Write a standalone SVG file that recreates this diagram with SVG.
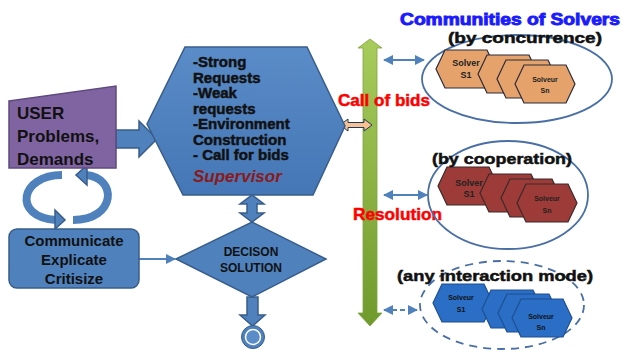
<svg xmlns="http://www.w3.org/2000/svg" xmlns:xlink="http://www.w3.org/1999/xlink" width="621" height="350" viewBox="0 0 621 350">
<style>
.bx{fill:#4f81bd;stroke:#385d8a;stroke-width:1.5}
.t{font-family:"Liberation Sans",Arial,sans-serif;font-weight:bold}
.hv{stroke-width:0.5}
.ell{fill:none;stroke:#4a6fa5;stroke-width:1.8}
.thin{stroke:#4f81bd;stroke-width:2;fill:none}
.or{fill:#e5a26b;stroke:#2b2b3b;stroke-width:1.2}
.rd{fill:#9c3b37;stroke:#3a2a2a;stroke-width:1.2}
.bl{fill:#2a6ec6;stroke:#1f4f8f;stroke-width:1.2}
.sl{font-family:"Liberation Sans",Arial,sans-serif;font-weight:bold;text-anchor:middle}
</style>
<defs>
<linearGradient id="gr" x1="0" y1="0" x2="0" y2="1">
<stop offset="0" stop-color="#a8cc5c"/><stop offset="1" stop-color="#6f9a2c"/>
</linearGradient>
<linearGradient id="hx" x1="0" y1="0" x2="0" y2="1">
<stop offset="0" stop-color="#5a8cc8"/><stop offset="1" stop-color="#4576b5"/>
</linearGradient>
<path id="sh" d="M0,19 L9,0 L51,0 L60,19 L51,38 L9,38 Z"/>
<marker id="ah" viewBox="0 0 10 10" refX="9" refY="5" markerWidth="5" markerHeight="5" orient="auto-start-reverse">
<path d="M0,0 L10,5 L0,10 Z" fill="#4f81bd"/>
</marker>
</defs>

<g id="connectors">
<polygon class="bx" points="116,130 139,130 139,121 157,139 139,157 139,148 116,148"/>
<polygon class="bx" points="252,195 264,204 257,204 257,213 264,213 252,222 240,213 247,213 247,204 240,204"/>
<polygon class="bx" points="247,297 258,297 258,315 265,315 252.5,326 240,315 247,315"/>
<line class="thin" x1="139" y1="259" x2="175" y2="259" marker-end="url(#ah)"/>
<path d="M62,175 C20,175 12,217 56,220" fill="none" stroke="#4f81bd" stroke-width="8"/>
<polygon class="bx" points="55,210 65,220 55,229"/>
<path d="M73,220 C116,220 118,178 86,175" fill="none" stroke="#4f81bd" stroke-width="8"/>
<polygon class="bx" points="87,165 76,175 87,185"/>
<polygon points="370,39 382,48 377,48 377,313 382,313 370,326 358,313 363,313 363,48 358,48" fill="url(#gr)" stroke="#7fa340" stroke-width="0.8"/>
<polygon points="340,125 348,119 348,122.5 364,122.5 364,119 372,125 364,131 364,127.5 348,127.5 348,131" fill="#fac08f" stroke="#1f3a5f" stroke-width="1"/>
<line class="thin" x1="384" y1="60" x2="424" y2="60" marker-start="url(#ah)" marker-end="url(#ah)"/>
<line class="thin" x1="384" y1="195" x2="427" y2="195" marker-start="url(#ah)" marker-end="url(#ah)"/>
<line class="thin" x1="384" y1="310" x2="417" y2="310" stroke-dasharray="5 3" marker-start="url(#ah)" marker-end="url(#ah)"/>
</g>

<g id="user">
<polygon points="9,101 116,86 116,168 9,168" fill="#8064a2" stroke="#5f4a7d" stroke-width="1.5"/>
<text class="t" font-size="17" fill="#111"><tspan x="17" y="119">USER</tspan><tspan x="17" y="142">Problems,</tspan><tspan x="17" y="165">Demands</tspan></text>
</g>

<g id="supervisor">
<polygon points="185,47 307,47 345,126 313,195 183,195 147,124" fill="url(#hx)" stroke="#385d8a" stroke-width="1.5"/>
<text class="t hv" font-size="15" fill="#111" stroke="#111">
<tspan x="193" y="67">-Strong</tspan>
<tspan x="193" y="82.5">Requests</tspan>
<tspan x="193" y="98">-Weak</tspan>
<tspan x="193" y="113.5">requests</tspan>
<tspan x="193" y="129">-Environment</tspan>
<tspan x="193" y="144.5">Construction</tspan>
<tspan x="193" y="160">- Call for bids</tspan>
</text>
<text class="t" x="193" y="182" font-size="17" font-style="italic" fill="#8b1a1a">Supervisor</text>
</g>

<g id="communicate">
<rect class="bx" x="9" y="229" width="130" height="59" rx="8"/>
<text class="t" font-size="15" fill="#111" text-anchor="middle"><tspan x="74" y="246">Communicate</tspan><tspan x="74" y="265">Explicate</tspan><tspan x="74" y="284">Critisize</tspan></text>
</g>

<g id="decision">
<polygon class="bx" points="176,259 252,222 326,259 252,297"/>
<text class="t" font-size="12" fill="#111" text-anchor="middle"><tspan x="251" y="256">DECISON</tspan><tspan x="251" y="272">SOLUTION</tspan></text>
</g>

<g id="end">
<circle cx="253" cy="337" r="11.5" fill="#4f81bd" stroke="#385d8a" stroke-width="1"/>
<circle cx="253" cy="337" r="7.5" fill="#5a8cc8" stroke="#fff" stroke-width="1.5"/>
</g>

<g id="labels">
<text class="t hv" x="338" y="106" font-size="17" fill="#ff0000" stroke="#ff0000" textLength="92" lengthAdjust="spacingAndGlyphs">Call of bids</text>
<text class="t hv" x="353" y="220" font-size="17" fill="#ff0000" stroke="#ff0000" textLength="89" lengthAdjust="spacingAndGlyphs">Resolution</text>
<text class="t" x="400" y="25" font-size="16" fill="#1a1aff" stroke="#1a1aff" stroke-width="0.9" textLength="220" lengthAdjust="spacingAndGlyphs">Communities of Solvers</text>
</g>

<g id="concurrence">
<ellipse class="ell" cx="517" cy="79" rx="95" ry="44"/>
<use href="#sh" x="436" y="50" class="or"/>
<use href="#sh" x="478" y="55" class="or"/>
<use href="#sh" x="497" y="60" class="or"/>
<use href="#sh" x="515" y="65" class="or"/>
<text class="sl" font-size="9" fill="#222"><tspan x="466" y="66">Solver</tspan><tspan x="466" y="78">S1</tspan></text>
<text class="sl" font-size="7" fill="#222"><tspan x="545" y="82">Solveur</tspan><tspan x="545" y="93">Sn</tspan></text>
<text class="t hv" x="448" y="43" font-size="15" fill="#111" stroke="#111" textLength="154" lengthAdjust="spacingAndGlyphs">(by concurrence)</text>
</g>

<g id="cooperation">
<ellipse class="ell" cx="508" cy="195" rx="80" ry="54"/>
<use href="#sh" x="438" y="167" class="rd"/>
<use href="#sh" x="480" y="174" class="rd"/>
<use href="#sh" x="501" y="179" class="rd"/>
<use href="#sh" x="517" y="184" class="rd"/>
<text class="sl" font-size="9" fill="#222"><tspan x="469" y="186">Solver</tspan><tspan x="469" y="197">S1</tspan></text>
<text class="sl" font-size="7" fill="#222"><tspan x="547" y="201">Solveur</tspan><tspan x="547" y="213">Sn</tspan></text>
<text class="t hv" x="432" y="164" font-size="15" fill="#111" stroke="#111" textLength="140" lengthAdjust="spacingAndGlyphs">(by cooperation)</text>
</g>

<g id="anymode">
<ellipse class="ell" cx="502" cy="305" rx="82" ry="44" stroke-dasharray="8 6"/>
<use href="#sh" x="433" y="284" class="bl"/>
<use href="#sh" x="482" y="290" class="bl"/>
<use href="#sh" x="498" y="294" class="bl"/>
<use href="#sh" x="512" y="299" class="bl"/>
<text class="sl" font-size="7" fill="#111"><tspan x="461" y="300">Solveur</tspan><tspan x="461" y="312">S1</tspan></text>
<text class="sl" font-size="7" fill="#111"><tspan x="541" y="319">Solveur</tspan><tspan x="541" y="330">Sn</tspan></text>
<text class="t hv" x="397" y="281" font-size="15" fill="#111" stroke="#111" textLength="196" lengthAdjust="spacingAndGlyphs">(any interaction  mode)</text>
</g>
</svg>
